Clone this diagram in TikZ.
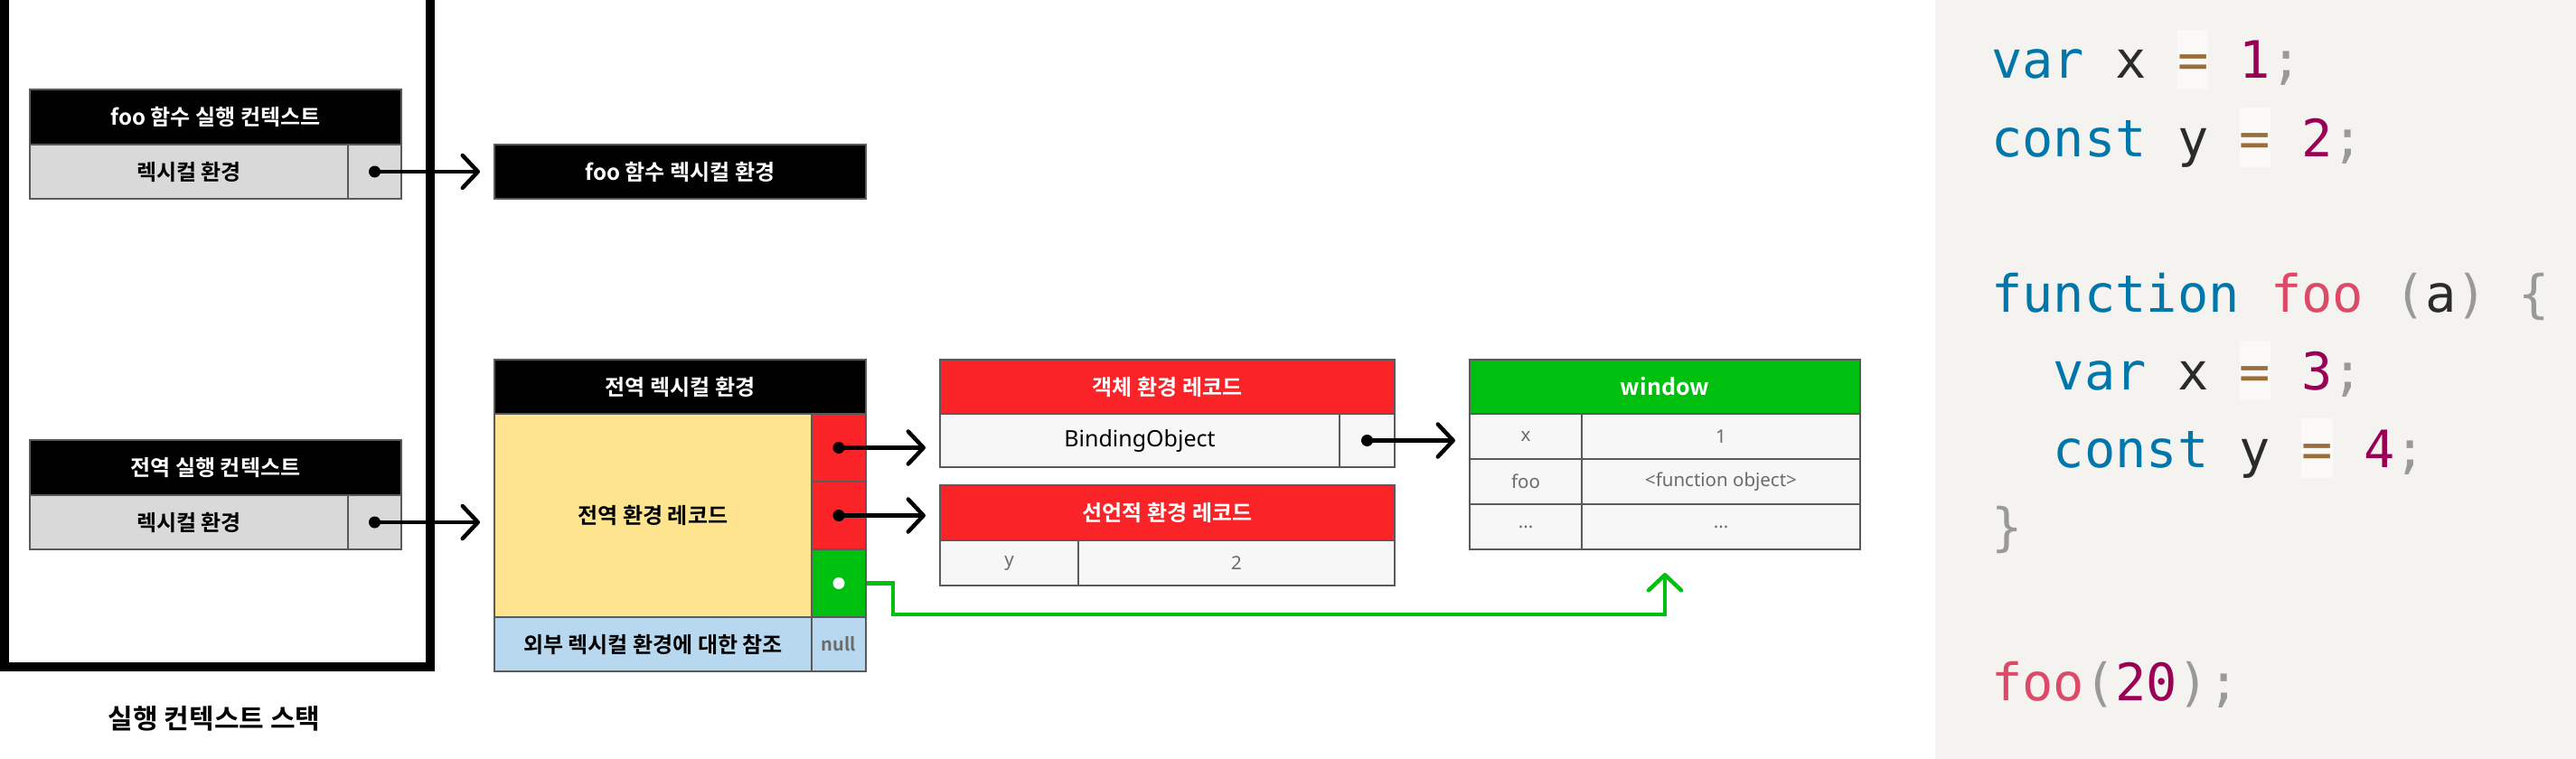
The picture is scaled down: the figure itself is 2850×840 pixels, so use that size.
\documentclass[tikz,border=0pt]{standalone}
\usepackage{fontspec}
\setmainfont{Noto Sans CJK KR}[BoldFont={Noto Sans CJK KR Bold}]
\newfontfamily\latf{Noto Sans}
\newfontfamily\monof{DejaVu Sans Mono}
\usetikzlibrary{arrows.meta,backgrounds}
\definecolor{bord}{HTML}{5A5A5A}
\definecolor{recred}{HTML}{FA2328}
\definecolor{wingreen}{HTML}{00C00F}
\definecolor{recyellow}{HTML}{FEE48E}
\definecolor{refblue}{HTML}{B8D8F0}
\definecolor{cellgray}{HTML}{D9D9D9}
\definecolor{celllight}{HTML}{F7F7F7}
\definecolor{valgray}{HTML}{6B6B6B}
\definecolor{codebg}{HTML}{F5F3F0}
\definecolor{eqbg}{HTML}{FAF9F7}
\definecolor{kwc}{HTML}{0077AA}
\definecolor{fnc}{HTML}{DD4A68}
\definecolor{numc}{HTML}{990055}
\definecolor{opc}{HTML}{9A6E3A}
\definecolor{puc}{HTML}{999999}
\definecolor{txc}{HTML}{2B2B2B}
\newcommand\fs[1]{\fontsize{#1}{#1}\selectfont}
\newcommand\kw[1]{\textcolor{kwc}{#1}}
\newcommand\fnn[1]{\textcolor{fnc}{#1}}
\newcommand\nm[1]{\textcolor{numc}{#1}}
\newcommand\pu[1]{\textcolor{puc}{#1}}
\newcommand\eqb{{\setlength\fboxsep{0pt}\colorbox{eqbg}{\rule[-12pt]{0pt}{66pt}\textcolor{opc}{=}}}}
\newcommand\cellbox[7]{\node[bx,#6,minimum width={(#4-#2)*1pt},minimum height={(#5-#3)*1pt}] (#1) at (#2,#3) {#7};}
\tikzset{
  bx/.style={draw=bord, line width=2pt, anchor=north west, inner sep=0pt, outer sep=0pt, align=center},
  hdrk/.style={fill=black, text=white, font=\fs{24}\bfseries},
  hdrr/.style={fill=recred, text=white, font=\fs{24}\bfseries},
  hdrg/.style={fill=wingreen, text=white, font=\fs{25}\bfseries},
  graycell/.style={fill=cellgray, font=\fs{24}\bfseries},
  yelcell/.style={fill=recyellow, font=\fs{24}\bfseries},
  redcell/.style={fill=recred},
  grncell/.style={fill=wingreen},
  bluecell/.style={fill=refblue, font=\fs{24}\bfseries},
  nullcell/.style={fill=refblue, text=valgray, font=\fs{20}\bfseries},
  bindcell/.style={fill=celllight, text=black, font=\latf\fs{25}},
  valcell/.style={fill=celllight, text=valgray, font=\latf\fs{20.5}},
  dotb/.style={circle, fill=black, minimum size=13pt, inner sep=0pt},
  dotw/.style={circle, fill=white, minimum size=13pt, inner sep=0pt},
  arr/.style={line width=4.5pt, -{Straight Barb[length=17pt,width=36pt,round]}},
  garr/.style={draw=wingreen, line width=4.5pt, -{Straight Barb[length=17pt,width=36pt,round]}},
  codeln/.style={anchor=base west, inner sep=0pt, text=txc, font=\monof\fs{57}},
}
\begin{document}
\begin{tikzpicture}[x=1pt,y=-1pt]
\useasboundingbox (0,0) rectangle (2850,840);
% code panel
\fill[codebg] (2141,0) rectangle (2850,840);
% execution context stack
\draw[line width=10pt, line join=miter] (5,0) -- (5,738) -- (475.5,738) -- (475.5,0);
\node[font=\fs{30}\bfseries] (ttl) at (237,795) {실행 컨텍스트 스택};
% foo execution context
\cellbox{fooH}{33}{99}{444}{160}{hdrk}{foo 함수 실행 컨텍스트}
\cellbox{fooR}{33}{160}{385}{220}{graycell}{렉시컬 환경}
\cellbox{fooC}{385}{160}{444}{220}{graycell}{}
\cellbox{fooLex}{547}{160}{958}{220}{hdrk}{foo 함수 렉시컬 환경}
% global execution context
\cellbox{gH}{33}{487}{444}{548}{hdrk}{전역 실행 컨텍스트}
\cellbox{gR}{33}{548}{385}{608}{graycell}{렉시컬 환경}
\cellbox{gC}{385}{548}{444}{608}{graycell}{}
% global lexical environment
\cellbox{gLexH}{547}{398}{958}{458}{hdrk}{전역 렉시컬 환경}
\cellbox{gRec}{547}{458}{898}{683}{yelcell}{전역 환경 레코드}
\cellbox{red1}{898}{458}{958}{533}{redcell}{}
\cellbox{red2}{898}{533}{958}{608}{redcell}{}
\cellbox{grn}{898}{608}{958}{683}{grncell}{}
\cellbox{outer}{547}{683}{898}{743}{bluecell}{외부 렉시컬 환경에 대한 참조}
\cellbox{nul}{898}{683}{958}{743}{nullcell}{null}
% object environment record
\cellbox{objH}{1040}{398}{1543}{458}{hdrr}{객체 환경 레코드}
\cellbox{objR}{1040}{458}{1482}{517}{bindcell}{BindingObject}
\cellbox{objC}{1482}{458}{1543}{517}{bindcell}{}
% declarative environment record
\cellbox{decH}{1040}{537}{1543}{598}{hdrr}{선언적 환경 레코드}
\cellbox{decK}{1040}{598}{1193}{648}{valcell}{y}
\cellbox{decV}{1193}{598}{1543}{648}{valcell}{2}
% window
\cellbox{win}{1626}{398}{2058}{458}{hdrg}{window}
\cellbox{w1k}{1626}{458}{1750}{508}{valcell}{x}
\cellbox{w1v}{1750}{458}{2058}{508}{valcell}{1}
\cellbox{w2k}{1626}{508}{1750}{558}{valcell}{foo}
\cellbox{w2v}{1750}{508}{2058}{558}{valcell}{<function object>}
\cellbox{w3k}{1626}{558}{1750}{608}{valcell}{...}
\cellbox{w3v}{1750}{558}{2058}{608}{valcell}{...}
% dots
\node[dotb] (d1) at (fooC.center) {};
\node[dotb] (d2) at (gC.center) {};
\node[dotb] (d3) at (red1.center) {};
\node[dotb] (d4) at (red2.center) {};
\node[dotb] (d6) at (objC.center) {};
% black arrows
\draw[arr, shorten >=16pt] (d1.center) -- (d1.center -| fooLex.west);
\draw[arr, shorten >=16pt] (d2.center) -- (d2.center -| gRec.west);
\draw[arr, shorten >=16pt] (d3.center) -- (d3.center -| objH.west);
\draw[arr, shorten >=16pt] (d4.center) -- (d4.center -| decH.west);
\draw[arr, shorten >=16pt] (d6.center) -- (d6.center -| w1k.west);
% green connector
\node[dotw] (d5) at (grn.center) {};
\coordinate (gbend) at (988,680);
\begin{pgfonlayer}{background}
\draw[garr, shorten >=26pt] (d5.center) -| (gbend) -| (win.south |- w3v.south);
\end{pgfonlayer}
% code
\node[codeln] (c1) at (2203,87) {\kw{var} x \eqb{} \nm{1}\pu{;}};
\node[codeln] (c2) at (2203,173) {\kw{const} y \eqb{} \nm{2}\pu{;}};
\node[codeln] (c4) at (2203,345) {\kw{function} \fnn{foo} \pu{(}a\pu{)} \pu{\{}};
\node[codeln] (c5) at (2271.6,431) {\kw{var} x \eqb{} \nm{3}\pu{;}};
\node[codeln] (c6) at (2271.6,517) {\kw{const} y \eqb{} \nm{4}\pu{;}};
\node[codeln] (c7) at (2203,603) {\pu{\}}};
\node[codeln] (c9) at (2203,775) {\fnn{foo}\pu{(}\nm{20}\pu{)}\pu{;}};
\end{tikzpicture}
\end{document}
